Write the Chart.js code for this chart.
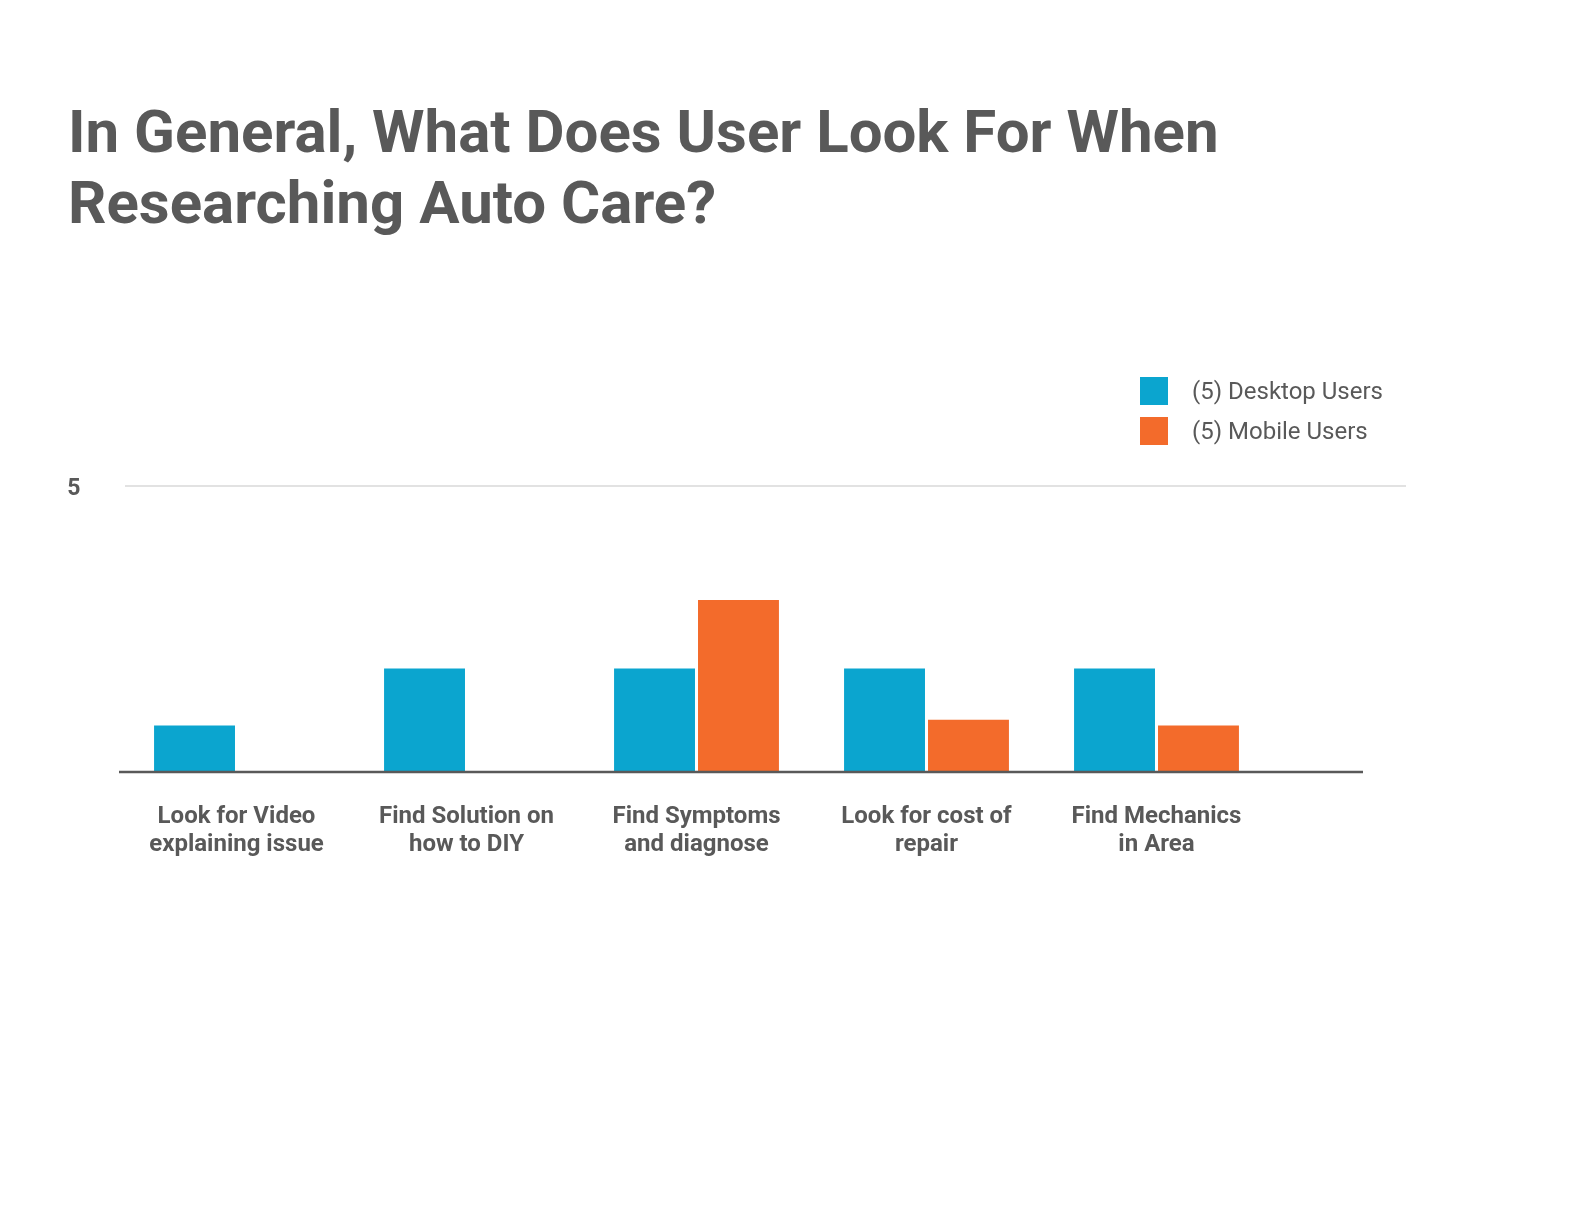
<!DOCTYPE html>
<html>
<head>
<meta charset="utf-8">
<script src="https://cdn.jsdelivr.net/npm/chart.js@4"></script>
<style>
  html, body { margin: 0; padding: 0; background: #ffffff; overflow: hidden; }
  #wrap { position: relative; width: 1584px; height: 1224px; }
  #c { position: absolute; left: 0; top: 0; }
  #title { position: absolute; left: 68px; top: 96px; font-family: Roboto, sans-serif; font-weight: 700; font-size: 60px; line-height: 71px; color: #595959; white-space: nowrap; }
  .leg { position: absolute; left: 1140px; height: 28px; font-family: Roboto, sans-serif; font-size: 24px; color: #595959; white-space: nowrap; }
  .leg .sw { position: absolute; left: 0; top: 0; width: 28px; height: 28px; }
  .leg .tx { position: absolute; left: 52px; top: -1px; line-height: 30px; }
</style>
</head>
<body>
<div id="wrap">
  <canvas id="c" width="1584" height="1224"></canvas>
  <div id="title">In General, What Does User Look For When<br>Researching Auto Care?</div>
  <div id="legend"></div>
</div>
<script>
const categories = [
  ['Look for Video', 'explaining issue'],
  ['Find Solution on', 'how to DIY'],
  ['Find Symptoms', 'and diagnose'],
  ['Look for cost of', 'repair'],
  ['Find Mechanics', 'in Area']
];
const desktopValues = [0.8, 1.8, 1.8, 1.8, 1.8];
const mobileValues = [0, 0, 3.0, 0.9, 0.8];
const seriesNames = ['(5) Desktop Users', '(5) Mobile Users'];
const seriesColors = ['#0ba5cf', '#f36b2b'];
const yTicks = [5];

const textColor = '#595959';

// HTML legend built from the series arrays
const legendEl = document.getElementById('legend');
seriesNames.forEach((name, i) => {
  const item = document.createElement('div');
  item.className = 'leg';
  item.style.top = (377 + i * 40) + 'px';
  const sw = document.createElement('div');
  sw.className = 'sw';
  sw.style.background = seriesColors[i];
  const tx = document.createElement('div');
  tx.className = 'tx';
  tx.textContent = name;
  item.appendChild(sw);
  item.appendChild(tx);
  legendEl.appendChild(item);
});

const axisLines = {
  id: 'axisLines',
  beforeDatasetsDraw(chart) {
    const { ctx, chartArea, scales: { y } } = chart;
    const yTop = y.getPixelForValue(yTicks[0]);
    ctx.save();
    ctx.strokeStyle = '#e2e2e2';
    ctx.lineWidth = 2;
    ctx.beginPath();
    ctx.moveTo(chartArea.left + 3.5, yTop);
    ctx.lineTo(chartArea.right + 134.5, yTop);
    ctx.stroke();
    ctx.restore();
  },
  afterDatasetsDraw(chart) {
    const { ctx, chartArea, scales: { y } } = chart;
    const y0 = y.getPixelForValue(0);
    ctx.save();
    ctx.strokeStyle = '#595959';
    ctx.lineWidth = 2.5;
    ctx.beginPath();
    ctx.moveTo(chartArea.left - 2.5, y0 + 1);
    ctx.lineTo(chartArea.right + 91.5, y0 + 1);
    ctx.stroke();
    ctx.restore();
  }
};

new Chart(document.getElementById('c'), {
  type: 'bar',
  data: {
    labels: categories,
    datasets: [
      { label: seriesNames[0], data: desktopValues, backgroundColor: seriesColors[0], borderWidth: 0, barPercentage: 0.964, categoryPercentage: 0.73 },
      { label: seriesNames[1], data: mobileValues, backgroundColor: seriesColors[1], borderWidth: 0, barPercentage: 0.964, categoryPercentage: 0.73 }
    ]
  },
  options: {
    responsive: false,
    animation: false,
    devicePixelRatio: 1,
    layout: { padding: { left: 61.5, right: 312.5, top: 486, bottom: 0 } },
    plugins: {
      legend: { display: false },
      title: { display: false },
      tooltip: { enabled: false }
    },
    scales: {
      x: {
        grid: { display: false, drawTicks: false },
        border: { display: false },
        ticks: {
          color: textColor,
          font: { family: 'Roboto', weight: 'bold', size: 24, lineHeight: 1.167 },
          padding: 32,
          maxRotation: 0,
          minRotation: 0,
          autoSkip: false
        },
        afterFit: (s) => { s.height = 453; }
      },
      y: {
        min: 0,
        max: 5,
        grid: { display: false, drawTicks: false },
        border: { display: false },
        afterBuildTicks: (s) => { s.ticks = yTicks.map(v => ({ value: v })); },
        ticks: {
          color: textColor,
          font: { family: 'Roboto', weight: 'bold', size: 23 },
          padding: 41,
          labelOffset: 3
        },
        afterFit: (s) => { s.width = 60; }
      }
    }
  },
  plugins: [axisLines]
});
</script>
</body>
</html>
